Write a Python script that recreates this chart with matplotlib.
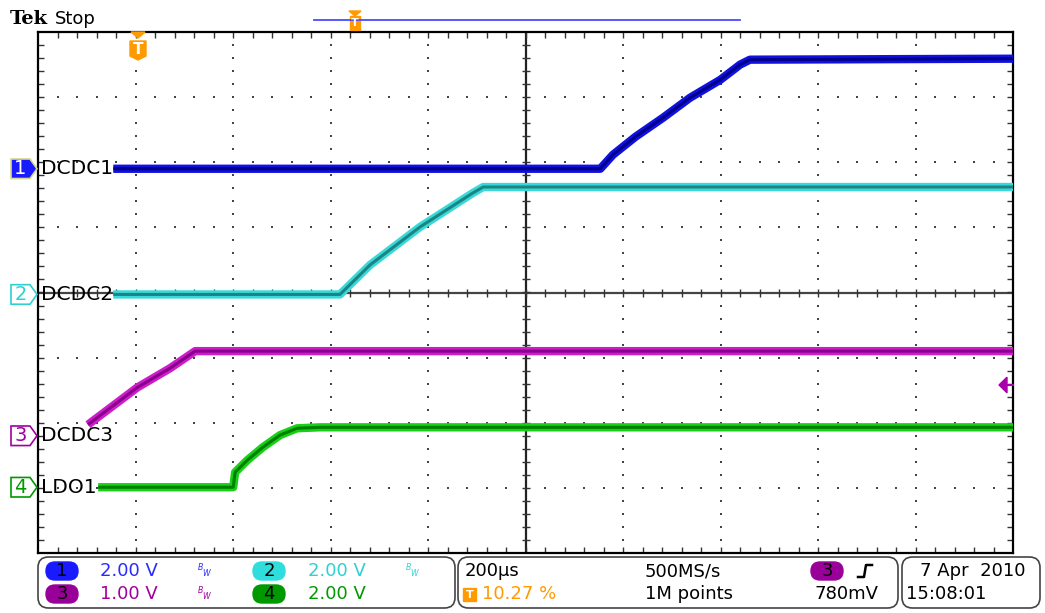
import matplotlib
matplotlib.use('Agg')
import numpy as np
import matplotlib.pyplot as plt
from matplotlib.patches import Polygon, FancyBboxPatch, Rectangle
from matplotlib.transforms import Affine2D, blended_transform_factory

# scope settings
time_per_div = 200.0        # us
trig_pos = 0.1027           # fraction of record
t_left = -trig_pos * 10 * time_per_div

# channel names, volts/div and ground offsets (div)
names = ['DCDC1', 'DCDC2', 'DCDC3', 'LDO1']
volts_div = [2.0, 2.0, 1.0, 2.0]
offsets = [1.90, -0.03, -2.20, -2.99]

# traces (time in us, volts)
t1 = [-51, 948, 974, 1020, 1077, 1132, 1194, 1235, 1255, 1795]
v1 = [0.0, 0.0, 0.43, 0.98, 1.57, 2.18, 2.73, 3.20, 3.35, 3.38]

t2 = [-51, 414, 476, 578, 687, 708, 1795]
v2 = [0.0, 0.0, 0.91, 2.07, 3.12, 3.30, 3.30]

t3 = [-103, -2, 66, 117, 1795]
v3 = [0.17, 0.74, 1.04, 1.30, 1.30]

t4 = [-82, 195, 199, 224, 256, 291, 326, 373, 1795]
v4 = [0.0, 0.0, 0.46, 0.83, 1.23, 1.60, 1.81, 1.84, 1.84]

trig_level = 0.78  # V on ch3

outer = ['#1010e0', '#3ad8d8', '#cc1ccc', '#18d018']
inner = ['#00008a', '#1a8585', '#8a008a', '#008000']
txtcol = ['#2a2aff', '#30d0d0', '#a000a0', '#009a00']
pillcol = ['#1a1aff', '#30dddd', '#990099', '#009900']

W, H = 1045, 613
fig = plt.figure(figsize=(W / 100, H / 100), dpi=100)

def fx(px):
    return px / W

def fy(py):
    return 1 - py / H

ax = fig.add_axes([fx(38), fy(553), fx(1013) - fx(38), fy(32) - fy(553)])
ax.set_xlim(t_left, t_left + 10 * time_per_div)
ax.set_ylim(-4, 4)
for s in ax.spines.values():
    s.set_color('black')
    s.set_linewidth(1.6)

# border ticks every 0.2 div
ax.set_xticks(t_left + np.arange(1, 50) * time_per_div / 5)
ax.set_yticks(np.arange(-3.8, 4.0, 0.2))
ax.tick_params(direction='in', length=4, width=1, color='#333333',
               top=True, right=True, labelbottom=False, labelleft=False)

# dotted graticule
dots_x, dots_y = [], []
for k in range(1, 10):
    if k == 5:
        continue
    for j in range(1, 40):
        dots_x.append(t_left + k * time_per_div)
        dots_y.append(-4 + j * 0.2)
for k in range(-3, 4):
    if k == 0:
        continue
    for j in range(1, 50):
        dots_x.append(t_left + j * time_per_div / 5)
        dots_y.append(k)
ax.scatter(dots_x, dots_y, s=1.5, color='#444444', marker='s', linewidths=0, zorder=1)

# center cross with ticks
tc = t_left + 5 * time_per_div
ax.axvline(tc, color='#222222', lw=1.6, zorder=1)
ax.axhline(0, color='#444444', lw=1.6, zorder=1)
ax.scatter(t_left + np.arange(1, 50) * time_per_div / 5, np.zeros(49),
           marker='|', s=30, color='#333333', linewidths=1, zorder=1)
ax.scatter(np.full(39, tc), np.arange(-3.8, 4.0, 0.2),
           marker='_', s=30, color='#333333', linewidths=1, zorder=1)

# traces
traces = [(t1, v1), (t2, v2), (t3, v3), (t4, v4)]
for i, (t, v) in enumerate(traces):
    tr = Affine2D().scale(1, 1 / volts_div[i]).translate(0, offsets[i]) + ax.transData
    ax.plot(t, v, color=outer[i], lw=6, transform=tr, solid_capstyle='butt',
            solid_joinstyle='round', zorder=3)
    ax.plot(t, v, color=inner[i], lw=2.2, transform=tr, solid_capstyle='butt',
            solid_joinstyle='round', zorder=4)

# channel labels and ground markers
bt = blended_transform_factory(fig.transFigure, ax.transData)
for i in range(4):
    y0 = offsets[i]
    ax.text(fx(41), y0, names[i], transform=bt, fontsize=14.5, va='center',
            ha='left', color='black', zorder=5)
    hh = 0.15
    pts = [(fx(11), y0 - hh), (fx(30), y0 - hh), (fx(37), y0),
           (fx(30), y0 + hh), (fx(11), y0 + hh)]
    if i == 0:
        poly = Polygon(pts, closed=True, transform=bt, facecolor='#1a1aff',
                       edgecolor='#d8d890', lw=1.2, zorder=5)
        num_col = 'white'
    else:
        poly = Polygon(pts, closed=True, transform=bt, facecolor='white',
                       edgecolor=txtcol[i], lw=1.2, zorder=5)
        num_col = txtcol[i]
    fig.add_artist(poly)
    fig.text(fx(20.5), y0, str(i + 1), transform=bt, fontsize=14, ha='center',
             va='center', color=num_col, zorder=6)

# trigger level marker (right edge)
tr3 = blended_transform_factory(fig.transFigure,
                                Affine2D().scale(1, 1 / volts_div[2]).translate(0, offsets[2]) + ax.transData)
fig.add_artist(Polygon([(fx(999), trig_level), (fx(1007), trig_level + 0.12),
                        (fx(1007), trig_level - 0.12)], closed=True, transform=tr3,
                       facecolor='#aa00aa', edgecolor='#aa00aa'))
fig.add_artist(plt.Line2D([fx(1005), fx(1013)], [trig_level, trig_level],
                          transform=tr3, color='#aa00aa', lw=1.5))

# header
fig.text(fx(10), fy(19), 'Tek', fontsize=14, fontweight='bold', family='DejaVu Serif',
         va='center', ha='left')
fig.text(fx(55), fy(19), 'Stop', fontsize=13, va='center', ha='left')
fig.add_artist(plt.Line2D([fx(314), fx(740)], [fy(20), fy(20)], color='#4a4aff', lw=1.3))

orange = '#ff9a00'
# small T in record bar
fig.add_artist(Polygon([(fx(349), fy(11)), (fx(361), fy(11)), (fx(355), fy(16))],
                       closed=True, facecolor=orange, edgecolor=orange))
fig.add_artist(Rectangle((fx(350), fy(30)), fx(10), fy(16) - fy(30),
                         facecolor=orange, edgecolor=orange))
fig.text(fx(355), fy(23), 'T', fontsize=8, color='white', ha='center', va='center',
         fontweight='bold')
# trigger position marker
fig.add_artist(Polygon([(fx(131), fy(32)), (fx(145), fy(32)), (fx(138), fy(38))],
                       closed=True, facecolor=orange, edgecolor=orange))
fig.add_artist(Polygon([(fx(130), fy(41)), (fx(146), fy(41)), (fx(146), fy(56)),
                        (fx(138), fy(60)), (fx(130), fy(56))],
                       closed=True, facecolor=orange, edgecolor=orange))
fig.text(fx(138), fy(49), 'T', fontsize=11, color='white', ha='center', va='center',
         fontweight='bold')

# status bar boxes
for x0, x1 in [(38, 455), (458, 898), (902, 1040)]:
    fig.add_artist(FancyBboxPatch((fx(x0), fy(608)), fx(x1 - x0), fy(557) - fy(608),
                                  boxstyle='round,pad=0,rounding_size=0.01',
                                  facecolor='white', edgecolor='#444444', lw=1.2,
                                  mutation_aspect=W / H))

def pill(xc, yc, label, col):
    fig.add_artist(FancyBboxPatch((fx(xc - 16), fy(yc + 9)), fx(32), fy(yc - 9) - fy(yc + 9),
                                  boxstyle='round,pad=0,rounding_size=0.0086',
                                  facecolor=col, edgecolor=col, mutation_aspect=W / H,
                                  zorder=2))
    fig.text(fx(xc), fy(yc), label, fontsize=13, ha='center', va='center',
             color='black', zorder=3)

r1, r2 = 571, 594
fs = 13
pill(62, r1, '1', pillcol[0])
fig.text(fx(100), fy(r1), '2.00 V', fontsize=fs, color=txtcol[0], va='center')
fig.text(fx(197), fy(r1), '$^{B}{_W}$', fontsize=8, color=txtcol[0], va='center')
pill(269, r1, '2', pillcol[1])
fig.text(fx(308), fy(r1), '2.00 V', fontsize=fs, color=txtcol[1], va='center')
fig.text(fx(405), fy(r1), '$^{B}{_W}$', fontsize=8, color=txtcol[1], va='center')
pill(62, r2, '3', pillcol[2])
fig.text(fx(100), fy(r2), '1.00 V', fontsize=fs, color=txtcol[2], va='center')
fig.text(fx(197), fy(r2), '$^{B}{_W}$', fontsize=8, color=txtcol[2], va='center')
pill(269, r2, '4', pillcol[3])
fig.text(fx(308), fy(r2), '2.00 V', fontsize=fs, color=txtcol[3], va='center')

fig.text(fx(465), fy(r1), '200µs', fontsize=fs, va='center')
fig.add_artist(Rectangle((fx(463), fy(601)), fx(13), fy(588) - fy(601),
                         facecolor=orange, edgecolor=orange))
fig.text(fx(469.5), fy(r2 + 0.5), 'T', fontsize=8, color='white', ha='center',
         va='center', fontweight='bold')
fig.text(fx(482), fy(r2), '10.27 %', fontsize=fs, color=orange, va='center')
fig.text(fx(645), fy(r1), '500MS/s', fontsize=fs, va='center')
fig.text(fx(645), fy(r2), '1M points', fontsize=fs, va='center')
pill(827, r1, '3', pillcol[2])
fig.add_artist(plt.Line2D([fx(858), fx(864), fx(866), fx(872)],
                          [fy(577), fy(577), fy(565), fy(565)], color='black', lw=1.8))
fig.text(fx(815), fy(r2), '780mV', fontsize=fs, va='center')
fig.text(fx(920), fy(r1), '7 Apr  2010', fontsize=fs, va='center')
fig.text(fx(906), fy(r2), '15:08:01', fontsize=fs, va='center')

fig.savefig('out.png', dpi=100)
